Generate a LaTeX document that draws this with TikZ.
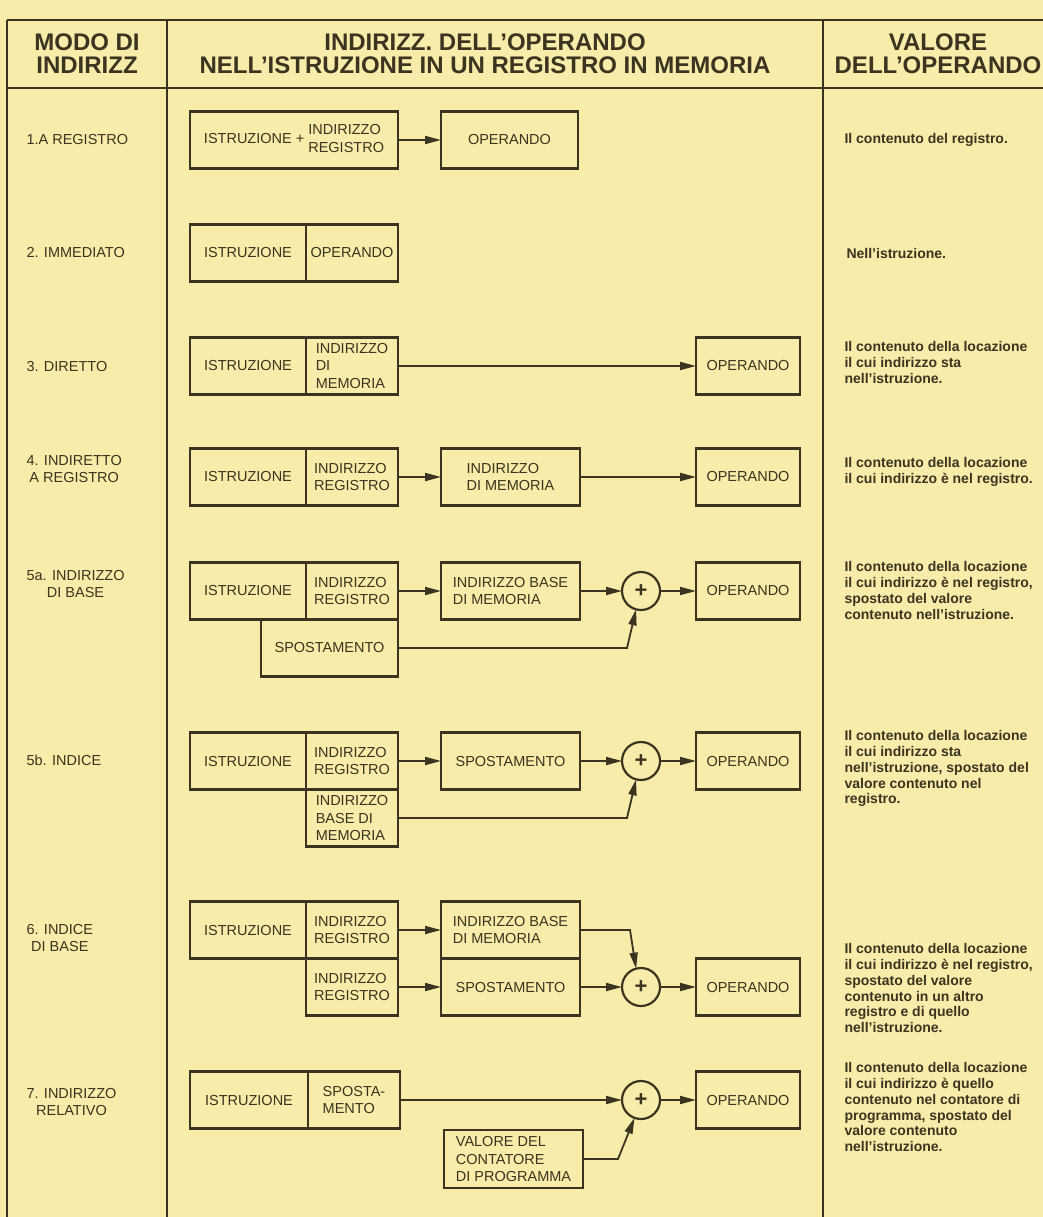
\documentclass[tikz,border=0pt]{standalone}
\usepackage{fontspec}
\setmainfont{Liberation Sans}
\usetikzlibrary{arrows.meta, positioning}

\definecolor{paper}{HTML}{F7ECA9}
\definecolor{ink}{HTML}{3A3420}
\newcommand\cellfont{\fontsize{14.5}{17.4}\selectfont}
\newcommand\valfont{\bfseries\fontsize{14}{15.8}\selectfont}
\newcommand\headfont{\bfseries\fontsize{24}{23}\selectfont}

\begin{document}
\begin{tikzpicture}[
  x=1pt, y=-1pt,
  box/.style={
    draw=ink,
    line width=2.6pt,
    minimum height=57pt,
    inner sep=0pt,
    outer sep=0pt,
    align=left,
    text=ink,
    font=\cellfont
  },
  adder/.style={circle, draw=ink, line width=2.2pt, minimum size=38pt,
    inner sep=0pt, outer sep=0pt, text=ink, font=\bfseries\fontsize{22}{22}\selectfont},
  arrow/.style={-{Triangle[length=16pt, width=8pt]}, line width=1.8pt, draw=ink},
  rule/.style={line width=1.6pt, draw=ink},
  header/.style={align=center, text=ink, font=\headfont},
  modelabel/.style={anchor=west, align=center, text=ink, font=\cellfont},
  valtext/.style={anchor=north west, align=left, text=ink, font=\valfont}
]

\fill[paper] (0,0) rectangle (1043,1217);
\useasboundingbox (0,0) rectangle (1043,1217);

% Table rules
\draw[rule] (7,20) -- (1043,20);
\draw[rule] (7,88) -- (1043,88);
\draw[rule] (7,20) -- (7,1217);
\draw[rule] (167,20) -- (167,1217);
\draw[rule] (823,20) -- (823,1217);

% Headers
\node[header] (hmode) at (87,54) {MODO DI\\INDIRIZZ};
\node[header] (hdiag) at (485,54) {INDIRIZZ. DELL'OPERANDO\\NELL'ISTRUZIONE IN UN REGISTRO IN MEMORIA};
\node[header] (hval) at (938,54) {VALORE\\DELL'OPERANDO};

% Addressing modes
\node[modelabel] (m1) at (23,140) {1.A REGISTRO};
\node[modelabel] (m2) at (23,253) {2. IMMEDIATO};
\node[modelabel] (m3) at (23,367) {3. DIRETTO};
\node[modelabel] (m4) at (23,469) {4. INDIRETTO\\A REGISTRO};
\node[modelabel] (m5a) at (23,584) {5a. INDIRIZZO\\DI BASE};
\node[modelabel] (m5b) at (23,760) {5b. INDICE};
\node[modelabel] (m6) at (23,938) {6. INDICE\\DI BASE};
\node[modelabel] (m7) at (23,1102) {7. INDIRIZZO\\RELATIVO};

% 1. register
\node[box, minimum width=208pt, anchor=west] (ir1) at (190,140)
  {ISTRUZIONE + \begin{tabular}{@{}l@{}}INDIRIZZO\\REGISTRO\end{tabular}};
\node[box, minimum width=137pt, right=43pt of ir1] (op1) {OPERANDO};

% 2. immediate
\node[box, minimum width=116pt, anchor=west] (istr2) at (190,253) {ISTRUZIONE};
\node[box, minimum width=92pt, right=0pt of istr2] (op2) {OPERANDO};

% 3. direct
\node[box, minimum width=116pt, anchor=west] (istr3) at (190,366) {ISTRUZIONE};
\node[box, minimum width=92pt, right=0pt of istr3] (ind3) {INDIRIZZO\\DI\\MEMORIA};
\node[box, minimum width=104pt] (op3) at (748,366) {OPERANDO};

% 4. register indirect
\node[box, minimum width=116pt, anchor=west] (istr4) at (190,477) {ISTRUZIONE};
\node[box, minimum width=92pt, right=0pt of istr4] (reg4) {INDIRIZZO\\REGISTRO};
\node[box, minimum width=139pt, right=43pt of reg4] (mem4) {INDIRIZZO\\DI MEMORIA};
\node[box, minimum width=104pt] (op4) at (748,477) {OPERANDO};

% 5a. base
\node[box, minimum width=116pt, anchor=west] (istr5a) at (190,591) {ISTRUZIONE};
\node[box, minimum width=92pt, right=0pt of istr5a] (reg5a) {INDIRIZZO\\REGISTRO};
\node[box, minimum width=137pt, anchor=north east] (sp5a) at (reg5a.south east) {SPOSTAMENTO};
\node[box, minimum width=139pt, right=43pt of reg5a] (base5a) {INDIRIZZO BASE\\DI MEMORIA};
\node[adder] (add5a) at (641,591) {+};
\node[box, minimum width=104pt, right=36pt of add5a] (op5a) {OPERANDO};

% 5b. index
\node[box, minimum width=116pt, anchor=west] (istr5b) at (190,761) {ISTRUZIONE};
\node[box, minimum width=92pt, right=0pt of istr5b] (reg5b) {INDIRIZZO\\REGISTRO};
\node[box, minimum width=92pt, below=0pt of reg5b] (base5b) {INDIRIZZO\\BASE DI\\MEMORIA};
\node[box, minimum width=139pt, right=43pt of reg5b] (sp5b) {SPOSTAMENTO};
\node[adder] (add5b) at (641,761) {+};
\node[box, minimum width=104pt, right=36pt of add5b] (op5b) {OPERANDO};

% 6. base index
\node[box, minimum width=116pt, anchor=west] (istr6) at (190,930) {ISTRUZIONE};
\node[box, minimum width=92pt, right=0pt of istr6] (reg6a) {INDIRIZZO\\REGISTRO};
\node[box, minimum width=92pt, below=0pt of reg6a] (reg6b) {INDIRIZZO\\REGISTRO};
\node[box, minimum width=139pt, right=43pt of reg6a] (base6) {INDIRIZZO BASE\\DI MEMORIA};
\node[box, minimum width=139pt, right=43pt of reg6b] (sp6) {SPOSTAMENTO};
\node[adder] (add6) at (641,987) {+};
\node[box, minimum width=104pt, right=36pt of add6] (op6) {OPERANDO};

% 7. relative
\node[box, minimum width=118pt, anchor=west] (istr7) at (190,1100) {ISTRUZIONE};
\node[box, minimum width=92pt, right=0pt of istr7] (sp7) {SPOSTA-\\MENTO};
\node[adder] (add7) at (641,1100) {+};
\node[box, minimum width=104pt, right=36pt of add7] (op7) {OPERANDO};
\node[box, minimum width=139pt, minimum height=58pt, anchor=north west] (pc7) at (444,1130)
  {VALORE DEL\\CONTATORE\\DI PROGRAMMA};

% Operand values
\node[valtext, anchor=west] (v1) at (841,140) {Il contenuto del registro.};
\node[valtext, anchor=west] (v2) at (843,253) {Nell'istruzione.};
\node[valtext] (v3) at (841,338) {Il contenuto della locazione\\il cui indirizzo sta\\nell'istruzione.};
\node[valtext] (v4) at (841,454) {Il contenuto della locazione\\il cui indirizzo è nel registro.};
\node[valtext] (v5a) at (841,558) {Il contenuto della locazione\\il cui indirizzo è nel registro,\\spostato del valore\\contenuto nell'istruzione.};
\node[valtext] (v5b) at (841,727) {Il contenuto della locazione\\il cui indirizzo sta\\nell'istruzione, spostato del\\valore contenuto nel\\registro.};
\node[valtext] (v6) at (841,940) {Il contenuto della locazione\\il cui indirizzo è nel registro,\\spostato del valore\\contenuto in un altro\\registro e di quello\\nell'istruzione.};
\node[valtext] (v7) at (841,1059) {Il contenuto della locazione\\il cui indirizzo è quello\\contenuto nel contatore di\\programma, spostato del\\valore contenuto\\nell'istruzione.};

% Arrows
\draw[arrow] (ir1) -- (op1);
\draw[arrow] (ind3) -- (op3);

\draw[arrow] (reg4) -- (mem4);
\draw[arrow] (mem4) -- (op4);

\draw[arrow] (reg5a) -- (base5a);
\draw[arrow] (base5a) -- (add5a);
\draw[arrow] (add5a) -- (op5a);
\draw[arrow] (sp5a.east) -- ([xshift=-14pt]add5a.south |- sp5a.east) -- (add5a.255);

\draw[arrow] (reg5b) -- (sp5b);
\draw[arrow] (sp5b) -- (add5b);
\draw[arrow] (add5b) -- (op5b);
\draw[arrow] (base5b.east) -- ([xshift=-14pt]add5b.south |- base5b.east) -- (add5b.255);

\draw[arrow] (reg6a) -- (base6);
\draw[arrow] (reg6b) -- (sp6);
\draw[arrow] (sp6) -- (add6);
\draw[arrow] (add6) -- (op6);
\draw[arrow] (base6.east) -- ([xshift=-11pt]add6.north |- base6.east) -- (add6.105);

\draw[arrow] (sp7) -- (add7);
\draw[arrow] (add7) -- (op7);
\draw[arrow] (pc7.east) -- ([xshift=-23pt]add7.south |- pc7.east) -- (add7.250);

\end{tikzpicture}
\end{document}
